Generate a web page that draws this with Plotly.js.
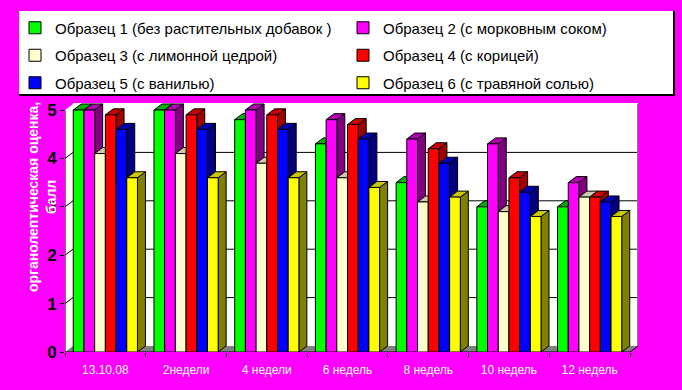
<!DOCTYPE html>
<html><head><meta charset="utf-8">
<script src="https://cdn.plot.ly/plotly-3.0.1.min.js"></script>
<style>html,body{margin:0;padding:0;background:#FF00FF;}</style>
</head><body><div id="chart" style="width:682px;height:390px;"></div>
<script>
// ---- data ----
const categories = ["13.10.08", "2недели", "4 недели", "6 недель", "8 недель", "10 недель", "12 недель"];
const seriesNames = [
  "Образец 1 (без растительных добавок )",
  "Образец 2 (с морковным соком)",
  "Образец 3 (с лимонной цедрой)",
  "Образец 4 (с корицей)",
  "Образец 5 (с ванилью)",
  "Образец 6 (с травяной солью)"
];
const sample1 = [5.0, 5.0, 4.8, 4.3, 3.5, 3.0, 3.0];
const sample2 = [5.0, 5.0, 5.0, 4.8, 4.4, 4.3, 3.5];
const sample3 = [4.1, 4.1, 3.9, 3.6, 3.1, 2.9, 3.2];
const sample4 = [4.9, 4.9, 4.9, 4.7, 4.2, 3.6, 3.2];
const sample5 = [4.6, 4.6, 4.6, 4.4, 3.9, 3.3, 3.1];
const sample6 = [3.6, 3.6, 3.6, 3.4, 3.2, 2.8, 2.8];
const yTicks = [0, 1, 2, 3, 4, 5];
const seriesValues = [sample1, sample2, sample3, sample4, sample5, sample6];

// ---- styles ----
const frontColors = ["#00FF00", "#FF00FF", "#FFFFCC", "#FF0000", "#0000FF", "#FFFF00"];
const topColors   = ["#00B000", "#B000B0", "#CCCCA8", "#C80000", "#0000B8", "#C8C800"];
const sideColors  = ["#008000", "#800080", "#A8A888", "#A00000", "#000080", "#808000"];
const FONT = "Liberation Sans, Arial, sans-serif";

const W = 682, H = 390, ML = 65, MR = 44, MT = 103, MB = 38;
const plotW = W - ML - MR, plotH = H - MT - MB;
const pxPerX = 565 / categories.length;      // front plane category width
const pxPerY = 242 / 5;                      // front plane unit height
const DX = 8, DY = 6;                        // 3D depth in pixels
const dxU = DX / pxPerX, dyU = DY / pxPerY;
const xMin = -0.5, xMax = xMin + plotW / pxPerX;
const yMax = plotH / pxPerY;
const barW = 10.7 / pxPerX;
const nS = seriesValues.length;

const legendIds = ["legend", "legend2", "legend3", "legend4", "legend5", "legend6"];
const xIdx = categories.map((c, i) => i);
const traces = seriesValues.map((vals, s) => ({
  type: "bar",
  name: seriesNames[s],
  x: xIdx,
  y: vals,
  width: barW,
  offset: -nS / 2 * barW + s * barW,
  marker: {color: frontColors[s], line: {color: "#000", width: 1}},
  legend: legendIds[s],
  hoverinfo: "skip"
}));

const shapes = [];
const px2paperX = p => (p - ML) / plotW;
const px2paperY = p => (H - MB - p) / plotH;
// legend box
shapes.push({type: "rect", xref: "paper", yref: "paper", layer: "below",
  x0: px2paperX(19), x1: px2paperX(674), y0: px2paperY(95), y1: px2paperY(11),
  fillcolor: "#FFFFFF", line: {width: 0}});
shapes.push({type: "path", xref: "paper", yref: "paper", layer: "below",
  path: `M${px2paperX(19)},${px2paperY(95)} L${px2paperX(674)},${px2paperY(95)} L${px2paperX(674)},${px2paperY(11)}`,
  line: {color: "#000", width: 2}});
// floor
shapes.push({type: "path", xref: "x", yref: "y", layer: "below",
  path: `M${xMin},0 L6.5,0 L${6.5 + dxU},${dyU} L${xMin + dxU},${dyU} Z`,
  fillcolor: "#808080", line: {width: 0}});
// corner cut-outs
shapes.push({type: "path", xref: "x", yref: "y", layer: "below",
  path: `M${xMin},${yMax} L${xMin + dxU},${yMax} L${xMin + dxU},${5 + dyU} L${xMin},5 Z`,
  fillcolor: "#FF00FF", line: {width: 0}});
shapes.push({type: "path", xref: "x", yref: "y", layer: "below",
  path: `M6.5,0 L${xMax + 0.05},0 L${xMax + 0.05},${dyU} L${6.5 + dxU},${dyU} Z`,
  fillcolor: "#FF00FF", line: {width: 0}});
// gridlines on back wall
yTicks.slice(1, 5).forEach(t => {
  shapes.push({type: "path", xref: "x", yref: "y", layer: "below",
    path: `M${xMin},${t} L${xMin + dxU},${t + dyU} L${xMax},${t + dyU}`,
    line: {color: "#000", width: 1}});
});
// right wall edge
shapes.push({type: "line", xref: "x", yref: "y", layer: "below",
  x0: 6.5 + dxU, x1: 6.5 + dxU, y0: dyU, y1: 5 + dyU, line: {color: "#808080", width: 2}});
// axis lines
shapes.push({type: "line", xref: "x", yref: "y", layer: "below",
  x0: xMin, x1: xMin, y0: 0, y1: 5, line: {color: "#000", width: 1}});
shapes.push({type: "path", xref: "x", yref: "y", layer: "below",
  path: `M${xMin},0 L6.5,0 L${6.5 + dxU},${dyU}`, line: {color: "#000", width: 1}});
// side and top faces of the 3D columns
const sideShapes = [], topShapes = [];
seriesValues.forEach((vals, s) => {
  vals.forEach((v, j) => {
    const x0 = j - nS / 2 * barW + s * barW, x1 = x0 + barW;
    sideShapes.push({type: "path", xref: "x", yref: "y", layer: "below",
      path: `M${x1},0 L${x1 + dxU},${dyU} L${x1 + dxU},${v + dyU} L${x1},${v} Z`,
      fillcolor: sideColors[s], line: {color: "#000", width: 1}});
    topShapes.push({type: "path", xref: "x", yref: "y", layer: "below",
      path: `M${x0},${v} L${x1},${v} L${x1 + dxU},${v + dyU} L${x0 + dxU},${v + dyU} Z`,
      fillcolor: topColors[s], line: {color: "#000", width: 1}});
  });
});
shapes.push(...sideShapes, ...topShapes);

const legendCols = [15, 343];          // legend left edges, px
const legendRows = [28, 55.5, 83];     // legend row centres, px
const layout = {
  width: W, height: H,
  paper_bgcolor: "#FF00FF", plot_bgcolor: "#FFFFFF",
  margin: {l: ML, r: MR, t: MT, b: MB, pad: 0, autoexpand: false},
  showlegend: true,
  barmode: "overlay",
  xaxis: {
    range: [xMin, xMax], tickmode: "array", tickvals: xIdx, ticktext: categories,
    ticks: "", showgrid: false, zeroline: false, showline: false, ticklabelstandoff: 9,
    tickfont: {family: FONT, size: 12, color: "#FFFFFF"},
    minor: {tickmode: "array", tickvals: categories.map((c, i) => i - 0.5).concat([categories.length - 0.5]),
      ticks: "outside", ticklen: 4, tickcolor: "#000", tickwidth: 1, showgrid: false},
    fixedrange: true
  },
  yaxis: {
    range: [0, yMax], tickmode: "array", tickvals: yTicks, ticktext: yTicks.map(String),
    ticks: "outside", ticklen: 4, tickcolor: "#000", showgrid: false, zeroline: false, showline: false,
    tickfont: {family: FONT, size: 17, color: "#000", weight: "bold"},
    fixedrange: true
  },
  shapes: shapes,
  annotations: [{
    xref: "paper", yref: "paper", x: px2paperX(42), y: px2paperY(197),
    xanchor: "center", yanchor: "middle", textangle: -90, showarrow: false,
    text: "органолептическая оценка,<br>балл",
    font: {family: FONT, size: 14, color: "#FFFFFF", weight: "bold"}
  }]
};
legendIds.forEach((id, s) => {
  layout[id] = {
    orientation: "v", xref: "container", yref: "container", xanchor: "left", yanchor: "middle",
    x: legendCols[s % 2] / W, y: 1 - legendRows[Math.floor(s / 2)] / H,
    bgcolor: "rgba(0,0,0,0)", borderwidth: 0,
    font: {family: FONT, size: 15, color: "#000"}
  };
});

Plotly.newPlot("chart", traces, layout, {displayModeBar: false, staticPlot: true});
</script>
</body></html>
